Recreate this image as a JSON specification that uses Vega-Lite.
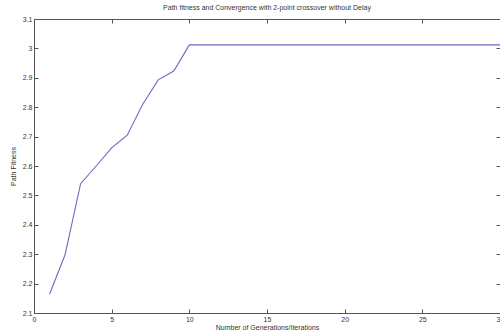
{
  "$schema": "https://vega.github.io/schema/vega-lite/v6.json",
  "autosize": {"type": "none"},
  "width": 466,
  "height": 294,
  "padding": {"left": 34, "top": 19, "right": 0, "bottom": 22},
  "background": "white",
  "title": {"text": "Path fitness and Convergence with 2-point crossover without Delay", "fontSize": 7, "font": "Liberation Sans", "fontWeight": "normal", "color": "#333", "offset": 4, "anchor": "middle"},
  "config": {"view": {"stroke": "#555", "strokeWidth": 1}},
  "data": {"values": [
    {"gen": 1, "fitness": 2.164},
    {"gen": 2, "fitness": 2.298},
    {"gen": 3, "fitness": 2.54},
    {"gen": 4, "fitness": 2.60},
    {"gen": 5, "fitness": 2.662},
    {"gen": 6, "fitness": 2.705},
    {"gen": 7, "fitness": 2.81},
    {"gen": 8, "fitness": 2.893},
    {"gen": 9, "fitness": 2.923},
    {"gen": 10, "fitness": 3.012},
    {"gen": 15, "fitness": 3.012},
    {"gen": 20, "fitness": 3.012},
    {"gen": 25, "fitness": 3.012},
    {"gen": 30, "fitness": 3.012}
  ]},
  "layer": [
    {
      "mark": {"type": "line", "color": "#6a6ac4", "strokeWidth": 1.1, "clip": true},
      "encoding": {
        "x": {"field": "gen", "type": "quantitative", "scale": {"domain": [0, 30], "nice": false},
          "axis": {"orient": "bottom", "values": [0,5,10,15,20,25,30], "tickSize": -4, "tickColor": "#555", "domainColor": "#555", "grid": false, "labelFlush": false, "labelOverlap": false,
            "labelFontSize": 7, "labelFont": "Liberation Sans", "labelColor": "#333", "labelPadding": 6,
            "title": "Number of Generations/Iterations", "titleFontSize": 7, "titleFont": "Liberation Sans", "titleFontWeight": "normal", "titleColor": "#333", "titlePadding": 1}},
        "y": {"field": "fitness", "type": "quantitative", "scale": {"domain": [2.1, 3.1], "nice": false, "zero": false},
          "axis": {"orient": "left", "values": [2.1,2.2,2.3,2.4,2.5,2.6,2.7,2.8,2.9,3.0,3.1], "format": "~g", "tickSize": -4, "tickColor": "#555", "domainColor": "#555", "grid": false, "labelFlush": false, "labelOverlap": false,
            "labelFontSize": 7, "labelFont": "Liberation Sans", "labelColor": "#333", "labelPadding": 6,
            "title": "Path Fitness", "titleFontSize": 7, "titleFont": "Liberation Sans", "titleFontWeight": "normal", "titleColor": "#333", "titlePadding": 6}}
      }
    },
    {
      "mark": {"type": "line", "opacity": 0},
      "encoding": {
        "x": {"field": "gen", "type": "quantitative", "scale": {"domain": [0, 30], "nice": false},
          "axis": {"orient": "top", "values": [0,5,10,15,20,25,30], "tickSize": -4, "tickColor": "#555", "domain": false, "labels": false, "title": null, "grid": false}},
        "y": {"field": "fitness", "type": "quantitative", "scale": {"domain": [2.1, 3.1], "nice": false, "zero": false},
          "axis": {"orient": "right", "values": [2.1,2.2,2.3,2.4,2.5,2.6,2.7,2.8,2.9,3.0,3.1], "tickSize": -4, "tickColor": "#555", "domain": false, "labels": false, "title": null, "grid": false}}
      }
    }
  ],
  "resolve": {"axis": {"x": "independent", "y": "independent"}}
}
